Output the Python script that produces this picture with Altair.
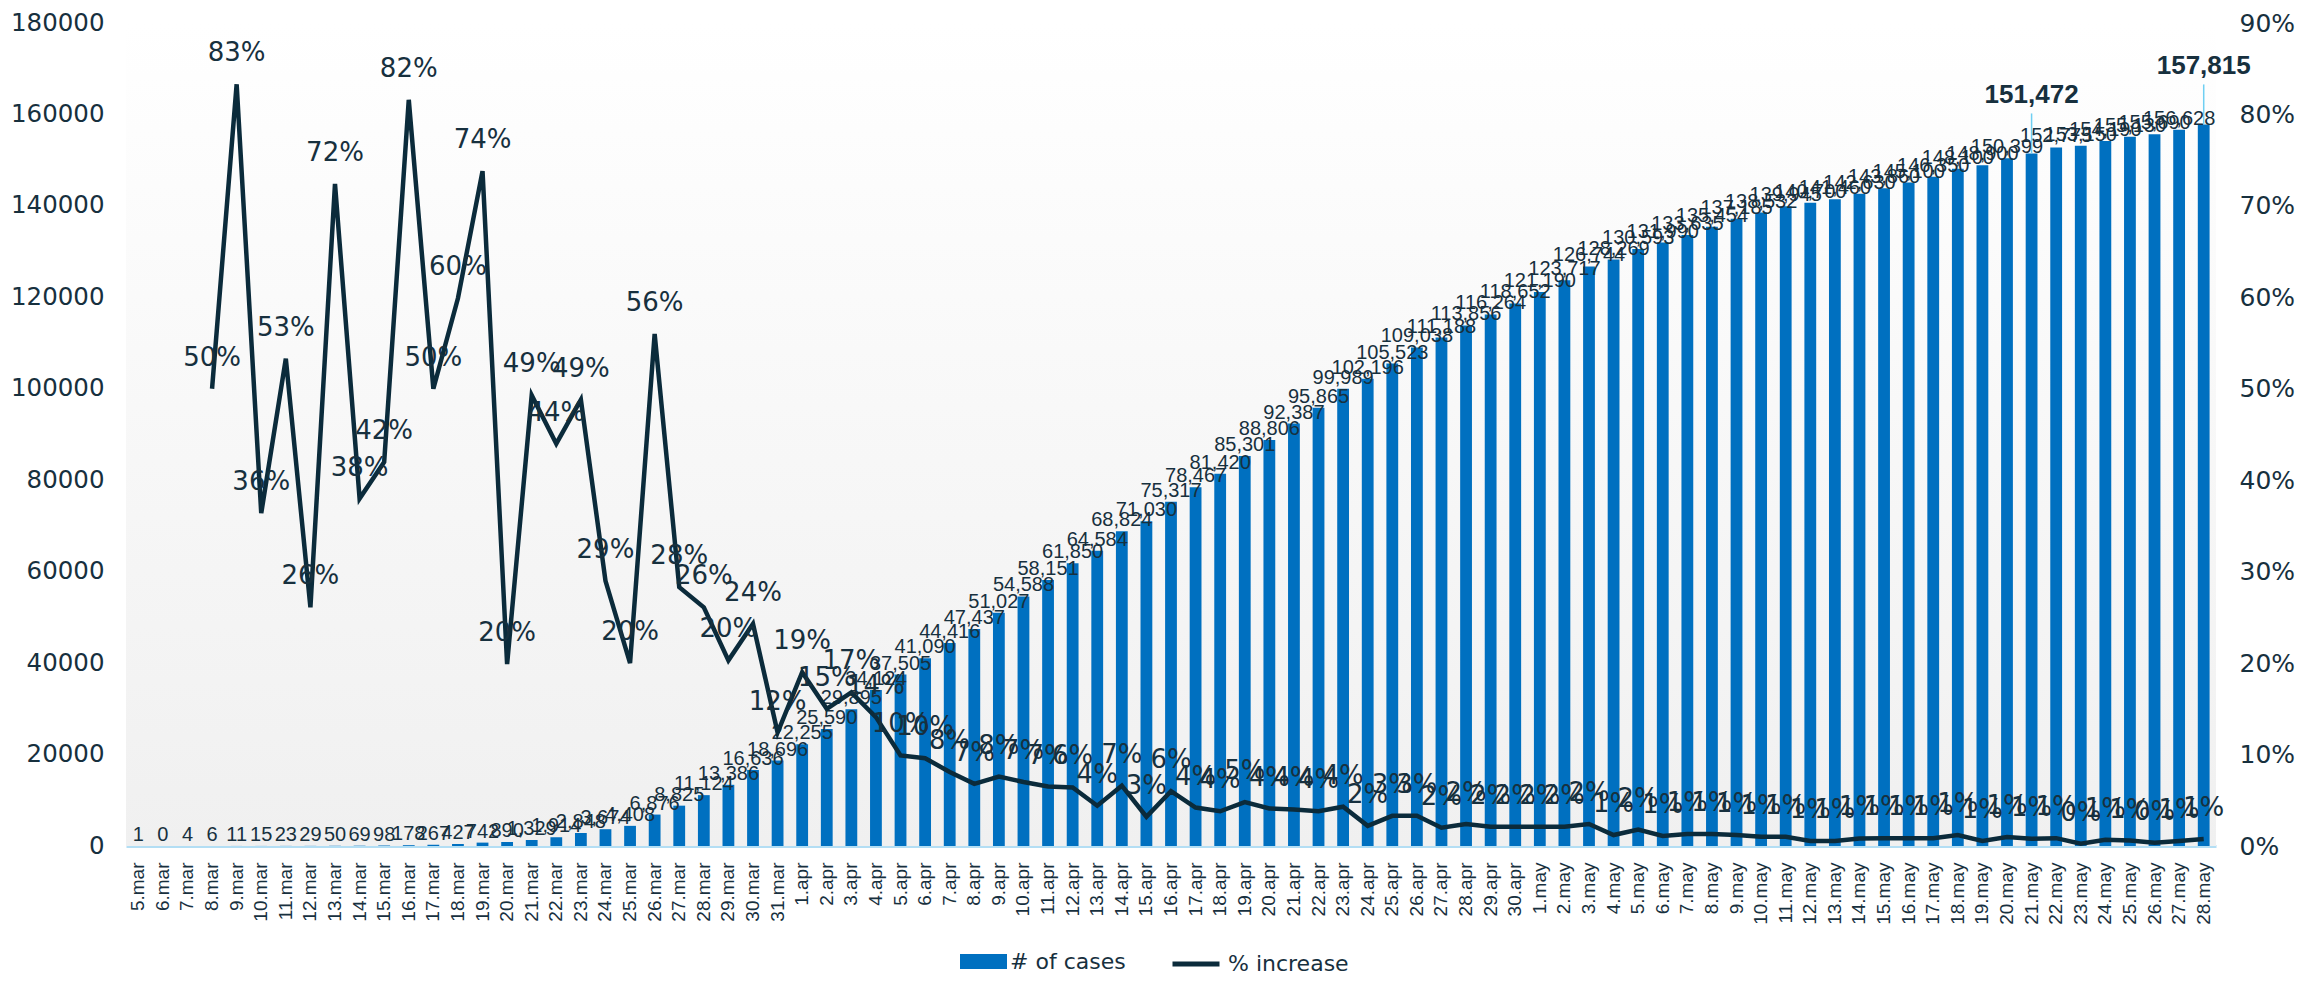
import altair as alt
import pandas as pd

# ---------------- data ----------------
dates_mar = ["5.mar", "6.mar", "7.mar", "8.mar", "9.mar", "10.mar", "11.mar", "12.mar", "13.mar",
             "14.mar", "15.mar", "16.mar", "17.mar", "18.mar", "19.mar", "20.mar", "21.mar", "22.mar",
             "23.mar", "24.mar", "25.mar", "26.mar", "27.mar", "28.mar", "29.mar", "30.mar", "31.mar"]
dates_apr = ["1.apr", "2.apr", "3.apr", "4.apr", "5.apr", "6.apr", "7.apr", "8.apr", "9.apr", "10.apr",
             "11.apr", "12.apr", "13.apr", "14.apr", "15.apr", "16.apr", "17.apr", "18.apr", "19.apr",
             "20.apr", "21.apr", "22.apr", "23.apr", "24.apr", "25.apr", "26.apr", "27.apr", "28.apr",
             "29.apr", "30.apr"]
dates_may = ["1.may", "2.may", "3.may", "4.may", "5.may", "6.may", "7.may", "8.may", "9.may", "10.may",
             "11.may", "12.may", "13.may", "14.may", "15.may", "16.may", "17.may", "18.may", "19.may",
             "20.may", "21.may", "22.may", "23.may", "24.may", "25.may", "26.may", "27.may", "28.may"]

cases_mar = [1, 0, 4, 6, 11, 15, 23, 29, 50, 69, 98, 178, 267, 427, 742, 890, 1329, 1914, 2848, 3674,
             4408, 6876, 8825, 11124, 13386, 16636, 18696]
cases_apr = [22255, 25590, 29895, 34124, 37505, 41090, 44416, 47437, 51027, 54588, 58151, 61850, 64584,
             68824, 71030, 75317, 78467, 81420, 85301, 88806, 92387, 95865, 99989, 102196, 105523,
             109038, 111188, 113856, 116264, 118652]
cases_may = [121190, 123717, 126744, 128269, 130593, 131990, 133635, 135454, 137185, 138532, 139945,
             140700, 141460, 142630, 143860, 145100, 146350, 148100, 148900, 150399, 151472, 152775,
             153150, 154190, 155130, 155690, 156628, 157815]

pct_mar = [None, None, None, 50.0, 83.3, 36.4, 53.3, 26.1, 72.4, 38.0, 42.0, 81.6, 50.0, 59.9, 73.8,
           19.9, 49.3, 44.0, 48.8, 29.0, 20.0, 56.0, 28.3, 26.1, 20.3, 24.3, 12.4]
pct_apr = [19.0, 15.0, 16.8, 14.1, 9.9, 9.6, 8.1, 6.8, 7.6, 7.0, 6.5, 6.4, 4.4, 6.6, 3.2, 6.0, 4.2, 3.8,
           4.8, 4.1, 4.0, 3.8, 4.3, 2.2, 3.3, 3.3, 2.0, 2.4, 2.1, 2.1]
pct_may = [2.1, 2.1, 2.4, 1.2, 1.8, 1.1, 1.3, 1.3, 1.2, 1.0, 1.0, 0.55, 0.55, 0.83, 0.86, 0.86, 0.86,
           1.2, 0.55, 0.97, 0.78, 0.86, 0.25, 0.68, 0.6, 0.36, 0.55, 0.76]

highlight_dates = ["21.may", "28.may"]

left_ticks = [0, 20000, 40000, 60000, 80000, 100000, 120000, 140000, 160000, 180000]
right_ticks = [0, 10, 20, 30, 40, 50, 60, 70, 80, 90]

SERIES_BAR = "# of cases"
SERIES_LINE = "% increase"

dates = dates_mar + dates_apr + dates_may
df = pd.DataFrame({
    "date": dates,
    "cases": cases_mar + cases_apr + cases_may,
    "pct": pct_mar + pct_apr + pct_may,
})
df["hl"] = df["date"].isin(highlight_dates)
df["s_bar"] = SERIES_BAR
df["s_line"] = SERIES_LINE

# ---------------- style ----------------
W, H = 2090, 823
FONT = "Liberation Sans"
WIDE = "DejaVu Sans"
TEXT = "#17303e"
LINE = "#0b2b3b"
BLUE = "#0070c0"
ZERO = "#b3def4"

base = alt.Chart(df)

x_enc = alt.X(
    "date:N", sort=dates, title=None,
    scale=alt.Scale(paddingInner=0.52, paddingOuter=0.26),
    axis=alt.Axis(labelAngle=270, labelFontSize=19, labelColor=TEXT, labelFont=FONT,
                  ticks=False, domain=True, domainColor=ZERO, domainWidth=3,
                  labelPadding=16, labelOverlap=False, grid=False),
)

y_cases = alt.Y(
    "cases:Q", title=None,
    scale=alt.Scale(domain=[0, 180000], nice=False, zero=True),
    axis=alt.Axis(values=left_ticks, format="d", labelFontSize=24.5, labelColor=TEXT, labelFont=WIDE,
                  ticks=False, domain=False, grid=False, labelPadding=22),
)

y_pct = alt.Y(
    "pct:Q", title=None,
    scale=alt.Scale(domain=[0, 90], nice=False, zero=True),
    axis=alt.Axis(orient="right", values=right_ticks, labelExpr="datum.value + '%'",
                  labelFontSize=25, labelColor=TEXT, labelFont=WIDE,
                  ticks=False, domain=False, grid=False, labelPadding=23),
)

bg = alt.Chart(alt.Data(values=[{}])).mark_rect(
    color=alt.Gradient(
        gradient="linear", x1=0, x2=0, y1=0, y2=1,
        stops=[alt.GradientStop(color="#ffffff", offset=0),
               alt.GradientStop(color="#fdfdfd", offset=0.13),
               alt.GradientStop(color="#f0f0f0", offset=1)],
    )
).encode(x=alt.value(0), x2=alt.value(W), y=alt.value(0), y2=alt.value(H))

bars = base.mark_bar().encode(
    x=x_enc, y=y_cases,
    fill=alt.Fill("s_bar:N", scale=alt.Scale(domain=[SERIES_BAR], range=[BLUE]),
                  legend=alt.Legend(title=None, orient="none", legendX=834, legendY=915,
                                    symbolType="M-1,-0.32L1,-0.32L1,0.32L-1,0.32Z",
                                    symbolSize=2209, symbolStrokeWidth=0,
                                    labelFontSize=22, labelColor=TEXT, labelFont=WIDE,
                                    labelOffset=3, padding=0)),
)

bar_labels = base.transform_filter("!datum.hl").mark_text(
    baseline="alphabetic", dy=-5, fontSize=20, font=FONT, color=TEXT
).encode(x=x_enc, y=y_cases, text=alt.Text("cases:Q", format=","))

leaders = base.transform_filter("datum.hl").mark_rule(
    color="#6fcff2", strokeWidth=1.5, y2Offset=-40
).encode(x=x_enc, y=y_cases, y2="cases:Q")

hl_labels = base.transform_filter("datum.hl").mark_text(
    baseline="alphabetic", dy=-50, fontSize=26, fontWeight="bold", font=FONT, color=TEXT
).encode(x=x_enc, y=y_cases, text=alt.Text("cases:Q", format=","))

line = base.transform_filter("isValid(datum.pct)").mark_line(
    strokeWidth=4.5, strokeJoin="miter"
).encode(
    x=x_enc, y=y_pct,
    stroke=alt.Stroke("s_line:N", scale=alt.Scale(domain=[SERIES_LINE], range=[LINE]),
                      legend=alt.Legend(title=None, orient="none", legendX=1044, legendY=915,
                                        symbolType="stroke", symbolSize=2209, symbolStrokeWidth=5,
                                        labelFontSize=22, labelColor=TEXT, labelFont=WIDE,
                                        labelOffset=6, padding=0)),
)

pct_labels = base.transform_filter("isValid(datum.pct)").transform_calculate(
    lbl="format(datum.pct, '.0f') + '%'"
).mark_text(baseline="alphabetic", dy=-23, fontSize=26, font=WIDE, color=TEXT).encode(
    x=x_enc, y=y_pct, text="lbl:N"
)

left = alt.layer(bg, bars, bar_labels, leaders, hl_labels)
right = alt.layer(line, pct_labels)

chart = alt.layer(left, right).resolve_scale(y="independent").properties(
    width=W, height=H,
    autosize=alt.AutoSizeParams(type="none"),
    padding={"left": 118, "top": 15, "right": 97, "bottom": 133},
    background="white",
).configure_view(stroke=None)

chart.save("out.html", embed_options={"renderer": "svg", "actions": False})
